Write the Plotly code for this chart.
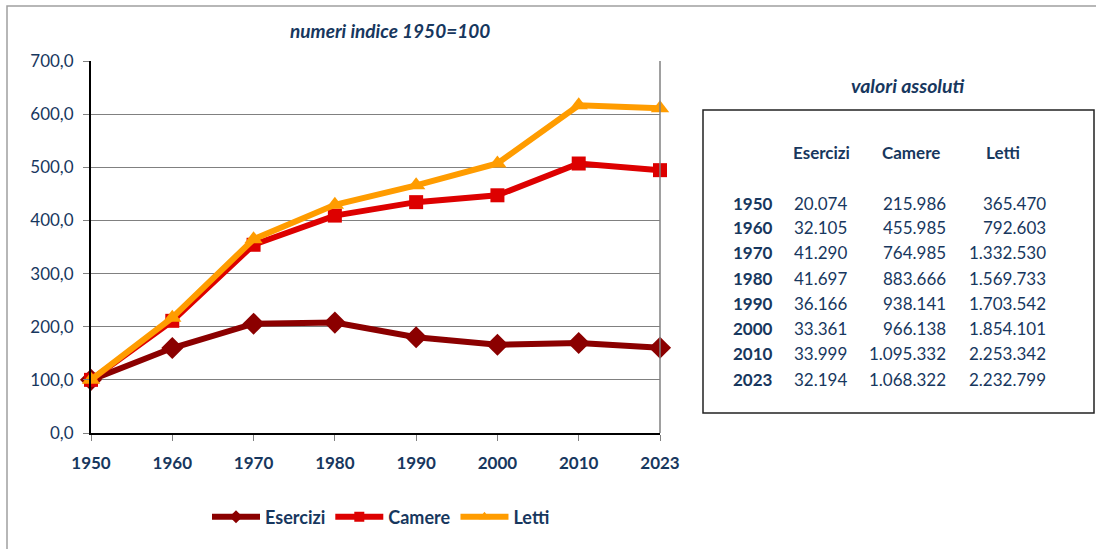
import plotly.graph_objects as go

years = ["1950", "1960", "1970", "1980", "1990", "2000", "2010", "2023"]
esercizi_idx = [100.0, 159.9, 205.7, 207.7, 180.2, 166.2, 169.4, 160.4]
camere_idx = [100.0, 211.1, 354.2, 409.1, 434.4, 447.3, 507.1, 494.6]
letti_idx = [100.0, 216.9, 364.6, 429.5, 466.1, 507.3, 616.6, 610.9]

esercizi_abs = ["20.074", "32.105", "41.290", "41.697", "36.166", "33.361", "33.999", "32.194"]
camere_abs = ["215.986", "455.985", "764.985", "883.666", "938.141", "966.138", "1.095.332", "1.068.322"]
letti_abs = ["365.470", "792.603", "1.332.530", "1.569.733", "1.703.542", "1.854.101", "2.253.342", "2.232.799"]

NAVY = "#17375E"
FONT = "Lato"
W, H = 1096, 549
L, R, T, B = 91, 660, 61, 433


def px(x):
    return (x - L) / (R - L)


def py(y):
    return (B - y) / (B - T)


fig = go.Figure()
series = [
    ("Esercizi", esercizi_idx, "#8B0000", "diamond", 17),
    ("Camere", camere_idx, "#DD0000", "square", 14),
    ("Letti", letti_idx, "#FF9C00", "triangle-up", 16),
]
for name, vals, col, sym, sz in series:
    fig.add_trace(go.Scatter(
        x=years, y=vals, name=name, mode="lines+markers",
        line=dict(color=col, width=6),
        marker=dict(symbol=sym, size=sz, color=col),
        cliponaxis=False, showlegend=False,
    ))
# legend entries with small markers (as in the reference legend)
for name, vals, col, sym, sz in series:
    fig.add_trace(go.Scatter(
        x=[years[0]], y=[None], name=name, mode="lines+markers",
        line=dict(color=col, width=6),
        marker=dict(symbol=sym, size=10, color=col),
        showlegend=True, hoverinfo="skip",
    ))


def ann(text, x, y, size, xanchor="center"):
    return dict(text=text, x=px(x), y=py(y), xref="paper", yref="paper",
                xanchor=xanchor, yanchor="middle", showarrow=False,
                font=dict(family=FONT, size=size, color=NAVY))


annotations = [
    ann("<b><i>numeri indice 1950=100</i></b>", 390, 30, 19),
    ann("<b><i>valori assoluti</i></b>", 908, 85, 19.5),
]
for txt, cx in [("Esercizi", 821), ("Camere", 911), ("Letti", 1003)]:
    annotations.append(ann(f"<b>{txt}</b>", cx, 152, 17))
row_y = [203, 227.5, 252.5, 278, 303, 328, 353.5, 379]
for i, yr in enumerate(years):
    annotations.append(ann(f"<b>{yr}</b>", 775, row_y[i], 17, "right"))
    for vals, rx in [(esercizi_abs, 849), (camere_abs, 948), (letti_abs, 1048)]:
        annotations.append(ann(vals[i], rx, row_y[i], 17, "right"))

shapes = [
    dict(type="rect", xref="paper", yref="paper",
         x0=px(7), x1=px(1110), y0=py(560), y1=py(6),
         line=dict(color="#A0A0A0", width=1.5)),
    dict(type="rect", xref="paper", yref="paper",
         x0=px(703), x1=px(1094), y0=py(413), y1=py(110),
         line=dict(color="#222222", width=1.5)),
    dict(type="line", xref="paper", yref="paper",
         x0=1, x1=1, y0=0, y1=1, line=dict(color="#808080", width=1.5)),
]

fig.update_layout(
    width=W, height=H,
    margin=dict(l=L, r=W - R, t=T, b=H - B, autoexpand=False),
    paper_bgcolor="white", plot_bgcolor="white",
    separators=",.",
    font=dict(family=FONT, color=NAVY),
    legend=dict(orientation="h", x=px(381), y=py(517), xanchor="center", yanchor="middle",
                font=dict(family=FONT, size=18, color=NAVY, weight="bold"), itemwidth=48,
                traceorder="normal", tracegroupgap=0),
    annotations=annotations,
    shapes=shapes,
    xaxis=dict(type="category", range=[0, 7], showgrid=False,
               showline=True, linecolor="black", linewidth=2,
               ticks="outside", ticklen=6, tickcolor="#808080",
               ticklabelstandoff=8,
               tickfont=dict(family=FONT, size=17, color=NAVY, weight="bold"),
               zeroline=False),
    yaxis=dict(range=[0, 700], dtick=100, tickformat=".1f",
               showgrid=True, gridcolor="#808080", gridwidth=1,
               showline=True, linecolor="black", linewidth=2,
               ticks="outside", ticklen=6, tickcolor="#808080",
               ticklabelstandoff=6,
               tickfont=dict(family=FONT, size=17, color=NAVY),
               zeroline=False),
)
fig.write_html("out.html", config={"displayModeBar": False},
               post_script="document.body.style.margin='0';")
